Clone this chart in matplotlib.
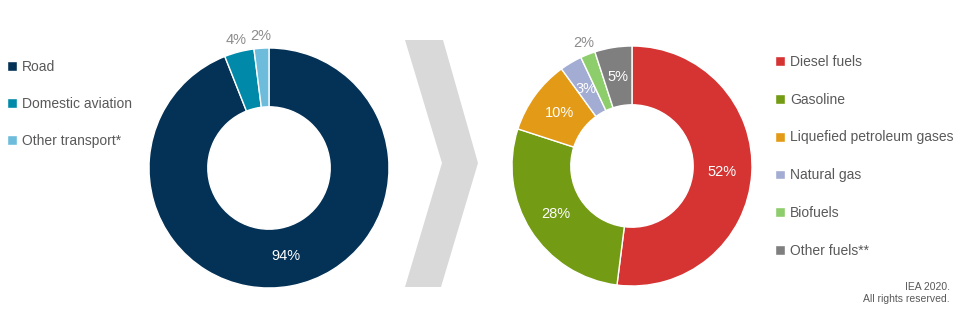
import matplotlib
matplotlib.use("Agg")
import matplotlib.pyplot as plt
import numpy as np
from matplotlib.patches import Polygon

plt.rcParams["font.family"] = ["Liberation Sans", "DejaVu Sans"]

# Data
mode_labels = ["Road", "Domestic aviation", "Other transport*"]
mode_values = [94, 4, 2]
mode_colors = ["#043257", "#0089a8", "#6dbcdb"]
mode_inside = [True, False, False]

fuel_labels = ["Diesel fuels", "Gasoline", "Liquefied petroleum gases",
               "Natural gas", "Biofuels", "Other fuels**"]
fuel_values = [52, 28, 10, 3, 2, 5]
fuel_colors = ["#d53433", "#739b14", "#e39b17", "#a3acd2", "#8dcd6b", "#7f7f7f"]
fuel_inside = [True, True, True, True, False, True]

TEXT_GREY = "#595959"
LABEL_GREY = "#8c8c8c"
W, H = 960, 324


def px_axes(fig, cx, cy, r):
    # cx, cy in pixels from top-left
    return fig.add_axes([(cx - r) / W, (H - cy - r) / H, 2 * r / W, 2 * r / H])


def donut(ax, values, colors, inside):
    wedges, _ = ax.pie(values, colors=colors, startangle=90, counterclock=False,
                       radius=1.0, wedgeprops=dict(width=0.49, edgecolor="white",
                                                   linewidth=1.0))
    ax.set_xlim(-1, 1)
    ax.set_ylim(-1, 1)
    ax.set_aspect("equal")
    ax.axis("off")
    for w, v, ins in zip(wedges, values, inside):
        ang = np.deg2rad((w.theta1 + w.theta2) / 2)
        rr = 0.75 if ins else 1.1
        ax.text(rr * np.cos(ang), rr * np.sin(ang), f"{v}%",
                ha="center", va="center", fontsize=10.5,
                color="white" if ins else LABEL_GREY)
    return wedges


fig = plt.figure(figsize=(W / 100, H / 100), dpi=100)

ax1 = px_axes(fig, 269, 168, 120)
w1 = donut(ax1, mode_values, mode_colors, mode_inside)

ax2 = px_axes(fig, 632, 166, 120)
w2 = donut(ax2, fuel_values, fuel_colors, fuel_inside)

# chevron
pts = [(405, 40), (443, 40), (478, 163), (441, 287), (405, 287), (442, 163)]
fig.patches.append(Polygon([(x / W, 1 - y / H) for x, y in pts], closed=True,
                           transform=fig.transFigure, facecolor="#d9d9d9",
                           edgecolor="none"))

leg_kw = dict(frameon=False, fontsize=10, handlelength=0.7, handleheight=0.7,
              handletextpad=0.4, labelcolor=TEXT_GREY, borderaxespad=0,
              borderpad=0)
fig.legend(w1, mode_labels, loc="upper left",
           bbox_to_anchor=(7 / W, 1 - 60 / H), labelspacing=1.64, **leg_kw)
fig.legend(w2, fuel_labels, loc="upper left",
           bbox_to_anchor=(775 / W, 1 - 55 / H), labelspacing=1.71, **leg_kw)

fig.text(950 / W, 1 - 287 / H, "IEA 2020.", ha="right", va="center",
         fontsize=7.5, color=TEXT_GREY)
fig.text(950 / W, 1 - 299 / H, "All rights reserved.", ha="right", va="center",
         fontsize=7.5, color=TEXT_GREY)

fig.savefig("out.png", dpi=100)
